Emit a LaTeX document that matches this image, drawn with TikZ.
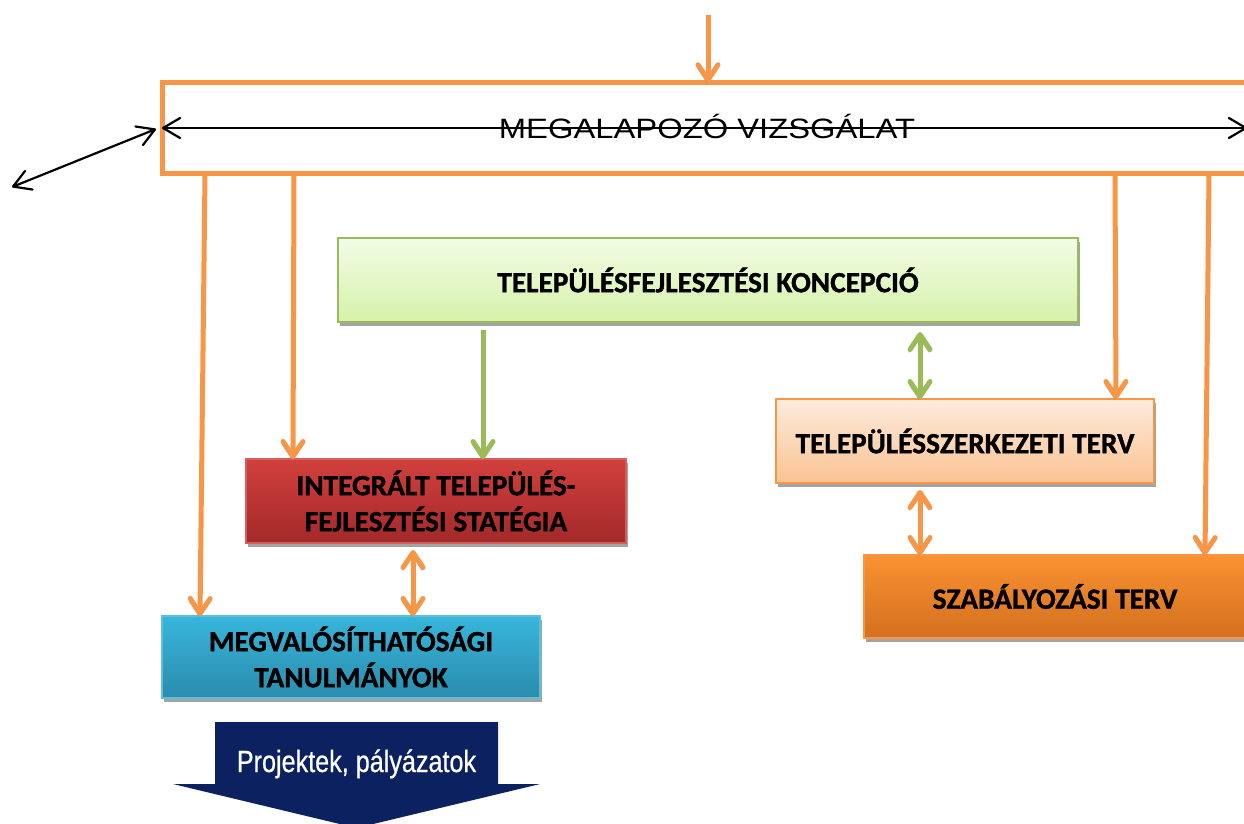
\documentclass[tikz,border=0pt]{standalone}
\usepackage{fontspec}
\setmainfont{Liberation Sans}
\newfontfamily\calfont{Carlito}[BoldFeatures={FakeBold=1.2}]
\newfontfamily\widefont{Liberation Sans}[FakeStretch=1.17]
\newfontfamily\narrowfont{Liberation Sans}[FakeStretch=0.82,FakeBold=0.6]
\usetikzlibrary{arrows.meta,shadows,calc}
\definecolor{orng}{HTML}{F79646}
\definecolor{grn}{HTML}{9BBB59}
\definecolor{shgray}{HTML}{A3A3A3}
\definecolor{arshadow}{HTML}{8E8E8E}
\definecolor{navy}{HTML}{0B2160}
\definecolor{koncT}{HTML}{F3FCE6}
\definecolor{koncB}{HTML}{D5F2A9}
\definecolor{integT}{HTML}{D1403D}
\definecolor{integB}{HTML}{A3292A}
\definecolor{integD}{HTML}{D65E5A}
\definecolor{megvT}{HTML}{38B6DB}
\definecolor{megvB}{HTML}{2A8CAD}
\definecolor{megvD}{HTML}{5BC0DE}
\definecolor{tsztT}{HTML}{FDEBDD}
\definecolor{tsztB}{HTML}{FAC392}
\definecolor{szabT}{HTML}{FA9231}
\definecolor{szabB}{HTML}{D36F1F}
\begin{document}
\begin{tikzpicture}[x=1pt,y=-1pt,
  box/.style={line width=1.6pt, inner sep=0pt, outer sep=0pt, align=center,
    font=\calfont\bfseries\fontsize{29.3}{36}\selectfont,
    drop shadow={shadow xshift=2pt, shadow yshift=-4pt, fill=shgray, opacity=1}},
  chev/.tip={Straight Barb[length=15pt,width=20pt,round]},
  bchev/.tip={Straight Barb[length=17pt,width=20pt,round]},
  arrshadow/.style={preaction={draw=arshadow, transform canvas={shift={(-1pt,-3pt)}}}},
  oarr/.style={draw=orng, line width=5pt, -{chev}, arrshadow},
  oarrtwo/.style={draw=orng, line width=5pt, {chev}-{chev}, arrshadow},
  garr/.style={draw=grn, line width=5pt, -{chev}, arrshadow},
  garrtwo/.style={draw=grn, line width=5pt, {chev}-{chev}, arrshadow},
  barr/.style={draw=black, line width=2.2pt, {bchev}-{bchev}}
]
\clip (0,0) rectangle (1244,823);
\fill[white] (0,0) rectangle (1244,823);

% top box
\node[draw=orng, line width=5pt, minimum width=1090pt, minimum height=91.5pt,
  inner sep=0pt, outer sep=0pt, text height=20pt, text depth=0pt,
  font=\widefont\fontsize{28}{30}\selectfont] (megal) at (707,128) {MEGALAPOZÓ VIZSGÁLAT};

% boxes
\node[box, draw=grn, top color=koncT, bottom color=koncB,
  minimum width=740pt, minimum height=84pt] (konc) at (708,280) {TELEPÜLÉSFEJLESZTÉSI KONCEPCIÓ};
\node[box, draw=integD, top color=integT, bottom color=integB,
  minimum width=380pt, minimum height=84pt] (integ) at (436,501) {INTEGRÁLT TELEPÜLÉS-\\FEJLESZTÉSI STATÉGIA};
\node[box, draw=megvD, top color=megvT, bottom color=megvB,
  minimum width=378pt, minimum height=82pt] (megv) at (351,657) {MEGVALÓSÍTHATÓSÁGI\\TANULMÁNYOK};
\node[box, draw=orng, top color=tsztT, bottom color=tsztB,
  minimum width=378pt, minimum height=84pt] (tszt) at (965,441) {TELEPÜLÉSSZERKEZETI TERV};
\node[box, draw=orng, top color=szabT, bottom color=szabB,
  minimum width=382pt, minimum height=83pt] (szab) at (1055,596.5) {SZABÁLYOZÁSI TERV};

% navy output arrow
\fill[navy] (215,722) -- (498,722) -- (498,784) -- (540,784) -- (356.5,828)
  -- (173,784) -- (215,784) -- cycle;
\node[text=white, inner sep=0pt, text height=22pt, text depth=0pt,
  font=\narrowfont\fontsize{30.7}{32}\selectfont] (proj) at (356.5,761) {Projektek, pályázatok};

% black arrows
\coordinate (farleft) at (12,187);
\coordinate (farright) at (1247,128);
\draw[barr] (megal.west) -- (farright);
\draw[barr] (farleft) -- ($(megal.west)+(-6,1)$);

% orange arrows
\coordinate (topin) at (708,15);
\draw[oarr] (topin) -- ($(megal.north)+(1,0)$);
\draw[oarr] ($(megal.south west)+(43,0)$) -- ($(megv.north west)+(38,0)$);
\draw[oarr] ($(megal.south west)+(132,0)$) -- ($(integ.north west)+(47,0)$);
\draw[oarr] ($(megal.south west)+(953,0)$) -- ($(tszt.north west)+(340,0)$);
\draw[oarr] ($(megal.south west)+(1047,0)$) -- ($(szab.north west)+(341,0)$);

% green arrows
\draw[garr] ($(konc.south west)+(145,8)$) -- ($(integ.north)+(47,0)$);
\draw[garrtwo] ($(konc.south)+(212,10)$) -- ($(tszt.north)+(-45,0)$);

% orange double arrows
\draw[oarrtwo] ($(tszt.south)+(-45,7)$) -- ($(szab.north west)+(56,0)$);
\draw[oarrtwo] ($(integ.south)+(-23,7)$) -- ($(megv.north)+(62,0)$);
\end{tikzpicture}
\end{document}
